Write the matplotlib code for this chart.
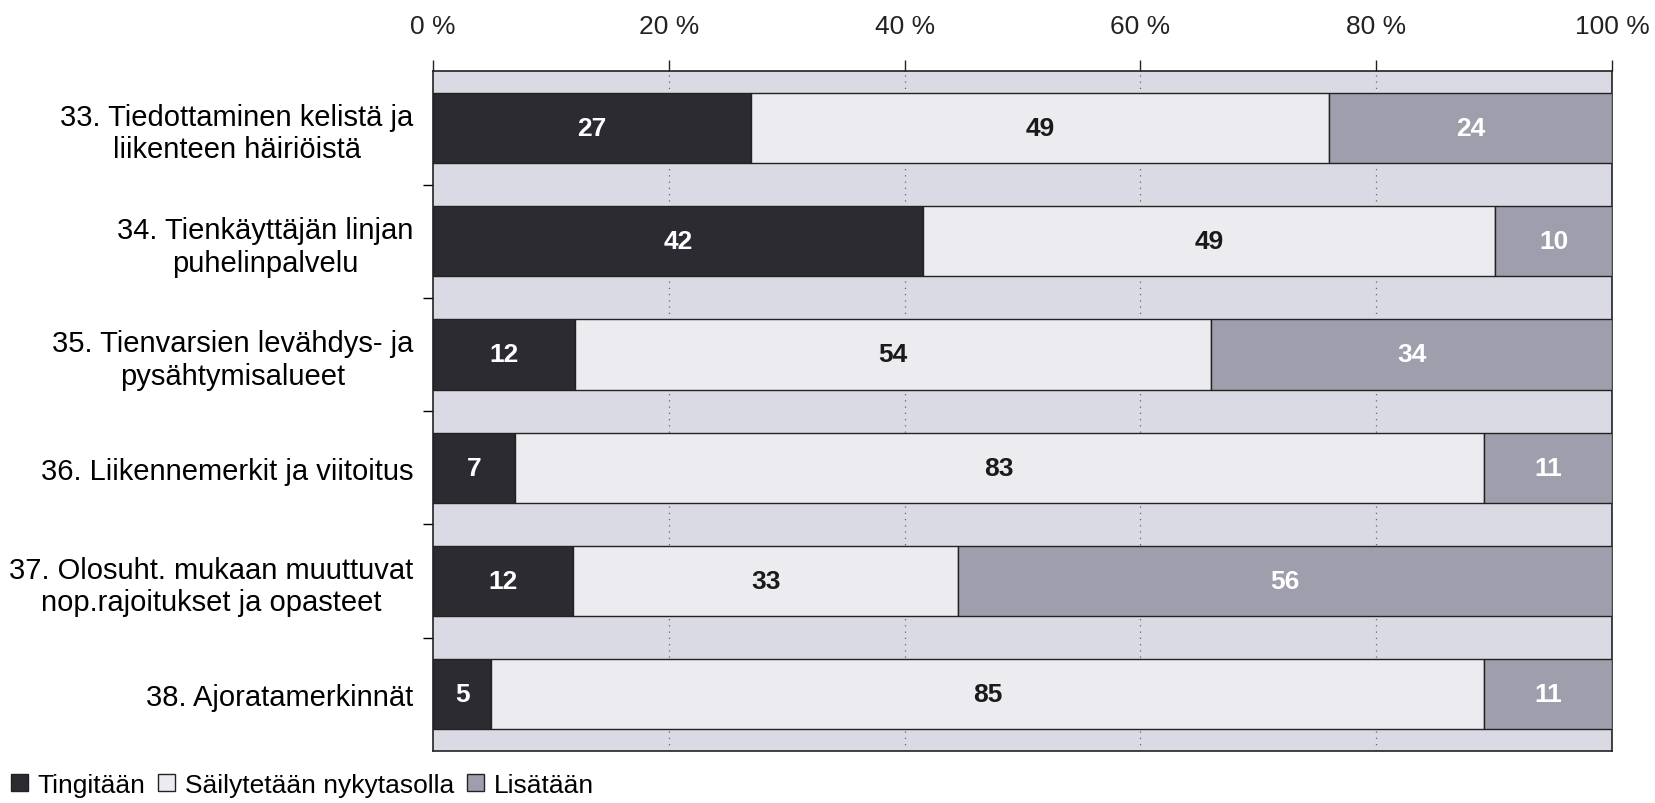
import matplotlib.pyplot as plt
import numpy as np

plt.rcParams['font.family'] = ['Liberation Sans Narrow', 'Liberation Sans', 'DejaVu Sans']

kohteet = ['33. Tiedottaminen kelistä ja\nliikenteen häiriöistä',
           '34. Tienkäyttäjän linjan\npuhelinpalvelu',
           '35. Tienvarsien levähdys- ja\npysähtymisalueet',
           '36. Liikennemerkit ja viitoitus',
           '37. Olosuht. mukaan muuttuvat\nnop.rajoitukset ja opasteet',
           '38. Ajoratamerkinnät']
tingitaan = [27, 42, 12, 7, 12, 5]
sailytetaan = [49, 49, 54, 83, 33, 85]
lisataan = [24, 10, 34, 11, 56, 11]
sarjat = ['Tingitään', 'Säilytetään nykytasolla', 'Lisätään']
xticks = [0, 20, 40, 60, 80, 100]

varit = ['#2b2b31', '#ececf0', '#9e9eac']
tekstivarit = ['white', '#1a1a1a', 'white']

data = np.array([tingitaan, sailytetaan, lisataan], dtype=float)
osuudet = data / data.sum(axis=0) * 100  # 100 % pinottu

fig = plt.figure(figsize=(16.56, 8.04), dpi=100)
ax = fig.add_axes([0.2615, 0.065, 0.712, 0.845])
ax.set_facecolor('#dadae5')

y = np.arange(len(kohteet))
vasen = np.zeros(len(kohteet))
for i in range(3):
    bars = ax.barh(y, osuudet[i], left=vasen, height=0.62, color=varit[i],
                   edgecolor='#222222', linewidth=1.0, label=sarjat[i], zorder=3)
    for j, b in enumerate(bars):
        ax.text(vasen[j] + osuudet[i][j] / 2, y[j], str(int(data[i][j])),
                ha='center', va='center', fontsize=19, fontweight='bold',
                color=tekstivarit[i], zorder=4)
    vasen += osuudet[i]

ax.set_xlim(0, 100)
ax.set_ylim(len(kohteet) - 0.5, -0.5)

for gx in xticks[1:-1]:
    ax.axvline(gx, color='#666666', lw=0.9, ls=(0, (1, 4)), zorder=1)

ax.xaxis.tick_top()
ax.set_xticks(xticks, labels=[f'{v} %' for v in xticks])
ax.tick_params(axis='x', direction='out', length=8, width=1, pad=16,
               labelsize=19, colors='#222222')

ax.set_yticks(y, labels=kohteet)
ax.set_yticks(np.arange(len(kohteet) - 1) + 0.5, minor=True)
ax.tick_params(axis='y', which='major', length=0, pad=14, labelsize=21)
ax.tick_params(axis='y', which='minor', length=7, width=1, direction='out')
for t in ax.get_yticklabels():
    t.set_multialignment('center')

for s in ax.spines.values():
    s.set_color('#222222')
    s.set_linewidth(1.2)

fig.legend(loc='lower left', bbox_to_anchor=(-0.003, -0.012), ncol=3, frameon=False,
           fontsize=19, handlelength=0.65, handleheight=0.65, handletextpad=0.35,
           columnspacing=0.5, borderaxespad=0.2)

fig.savefig('out.png', dpi=100)
